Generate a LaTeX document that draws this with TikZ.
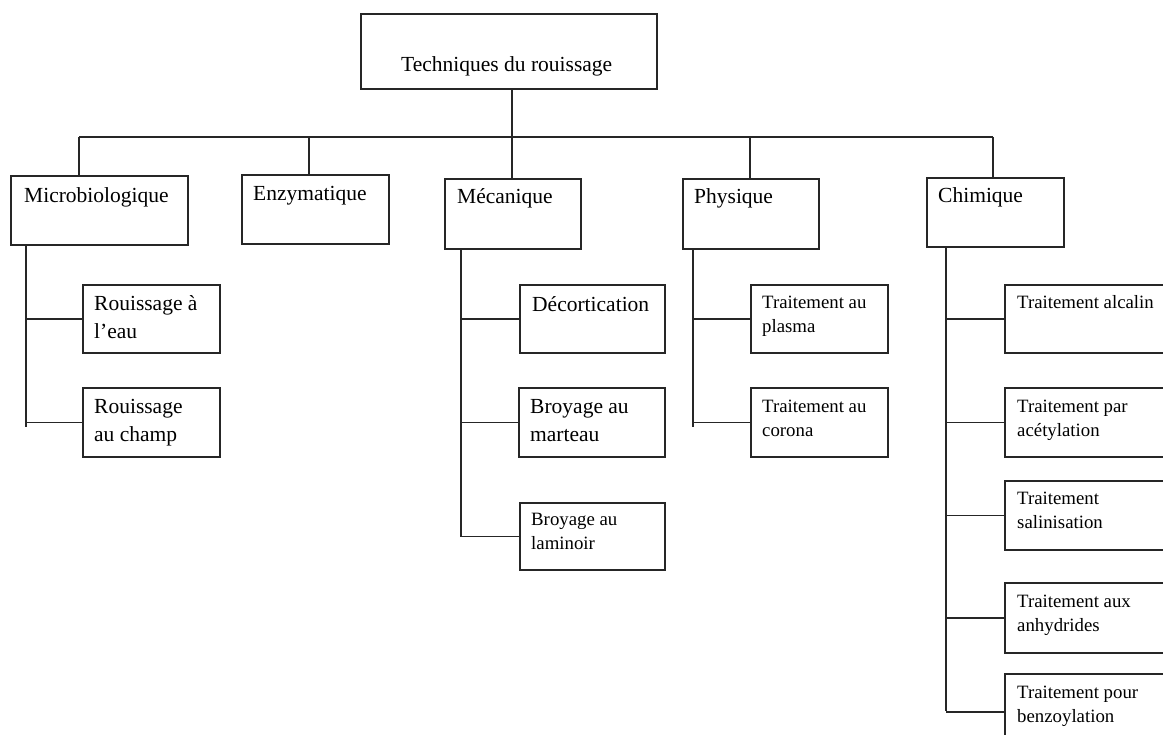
\documentclass[tikz,border=0pt]{standalone}
\usepackage{fontspec}
\setmainfont{Liberation Serif}
\begin{document}
\begin{tikzpicture}[x=1pt,y=-1pt,
  box/.style={draw=black!85, line width=1.6pt, rectangle, inner sep=0pt, anchor=north west},
  big/.style={font=\fontsize{21.5}{28.5}\selectfont, inner sep=0pt, anchor=base west, align=left},
  small/.style={font=\fontsize{18.8}{24}\selectfont, inner sep=0pt, anchor=base west, align=left},
  conn/.style={draw=black!85, line width=1.5pt}]
\useasboundingbox (0,0) rectangle (1163,735);
\clip (0,0) rectangle (1163,735);
% root
\node[box, minimum width=296pt, minimum height=75pt] (root) at (360,13) {};
\node[big] (roott) at (401,72) {Techniques du rouissage};
% level 1
\node[box, minimum width=177pt, minimum height=69pt] (micro) at (10,175) {};
\node[big] (microt) at (24,203) {Microbiologique};
\node[box, minimum width=147pt, minimum height=69pt] (enzy) at (241,174) {};
\node[big] (enzyt) at (253,201) {Enzymatique};
\node[box, minimum width=136pt, minimum height=70pt] (meca) at (444,178) {};
\node[big] (mecat) at (457,204) {Mécanique};
\node[box, minimum width=136pt, minimum height=70pt] (phys) at (682,178) {};
\node[big] (physt) at (694,204) {Physique};
\node[box, minimum width=137pt, minimum height=69pt] (chim) at (926,177) {};
\node[big] (chimt) at (938,203) {Chimique};
% micro children (multi-line nodes: base = last line)
\node[box, minimum width=137pt, minimum height=68pt] (r1) at (82,284) {};
\node[big] (r1t) at (94,339) {Rouissage à\\l’eau};
\node[box, minimum width=137pt, minimum height=69pt] (r2) at (82,387) {};
\node[big] (r2t) at (94,442) {Rouissage\\au champ};
% meca children
\node[box, minimum width=145pt, minimum height=68pt] (m1) at (519,284) {};
\node[big] (m1t) at (532,312) {Décortication};
\node[box, minimum width=146pt, minimum height=69pt] (m2) at (518,387) {};
\node[big] (m2t) at (530,442) {Broyage au\\marteau};
\node[box, minimum width=145pt, minimum height=67pt] (m3) at (519,502) {};
\node[small] (m3t) at (531,549) {Broyage au\\laminoir};
% phys children
\node[box, minimum width=137pt, minimum height=68pt] (p1) at (750,284) {};
\node[small] (p1t) at (762,333) {Traitement au\\plasma};
\node[box, minimum width=137pt, minimum height=69pt] (p2) at (750,387) {};
\node[small] (p2t) at (762,436) {Traitement au\\corona};
% chim children
\node[box, minimum width=170pt, minimum height=68pt] (c1) at (1004,284) {};
\node[small] (c1t) at (1017,309) {Traitement alcalin};
\node[box, minimum width=170pt, minimum height=69pt] (c2) at (1004,387) {};
\node[small] (c2t) at (1017,436) {Traitement par\\acétylation};
\node[box, minimum width=170pt, minimum height=69pt] (c3) at (1004,480) {};
\node[small] (c3t) at (1017,528) {Traitement\\salinisation};
\node[box, minimum width=170pt, minimum height=70pt] (c4) at (1004,582) {};
\node[small] (c4t) at (1017,631) {Traitement aux\\anhydrides};
\node[box, minimum width=170pt, minimum height=76pt] (c5) at (1004,673) {};
\node[small] (c5t) at (1017,722) {Traitement pour\\benzoylation};
% top connectors
\coordinate (s0) at (512,137);
\coordinate (s1) at (79,137);
\coordinate (s2) at (309,137);
\coordinate (s3) at (512,137);
\coordinate (s4) at (750,137);
\coordinate (s5) at (993,137);
\draw[conn] (s0 |- root.south) -- (s0);
\draw[conn] (s1) -- (s5);
\draw[conn] (s1) -- (s1 |- micro.north);
\draw[conn] (s2) -- (s2 |- enzy.north);
\draw[conn] (s3) -- (s3 |- meca.north);
\draw[conn] (s4) -- (s4 |- phys.north);
\draw[conn] (s5) -- (s5 |- chim.north);
% spines
\coordinate (v1) at (26,427);
\coordinate (v2) at (461,537);
\coordinate (v3) at (693,427);
\coordinate (v4) at (946,711);
\draw[conn] (v1 |- micro.south) -- (v1);
\draw[conn] (v2 |- meca.south) -- (v2);
\draw[conn] (v3 |- phys.south) -- (v3);
\draw[conn] (v4 |- chim.south) -- (v4);
% branches
\foreach \n in {r1,r2} {\draw[conn] (v1 |- \n.west) -- (\n.west);}
\foreach \n in {m1,m2,m3} {\draw[conn] (v2 |- \n.west) -- (\n.west);}
\foreach \n in {p1,p2} {\draw[conn] (v3 |- \n.west) -- (\n.west);}
\foreach \n in {c1,c2,c3,c4,c5} {\draw[conn] (v4 |- \n.west) -- (\n.west);}
\end{tikzpicture}
\end{document}
